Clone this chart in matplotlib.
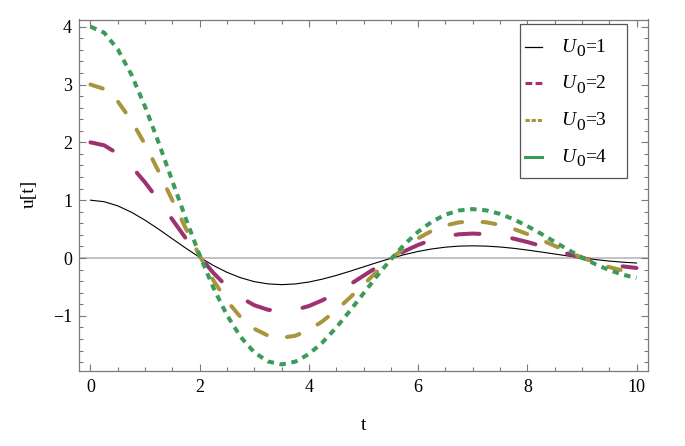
import matplotlib
matplotlib.use("Agg")
import matplotlib.pyplot as plt
from matplotlib.lines import Line2D
from matplotlib.patches import Rectangle
from matplotlib.ticker import MultipleLocator

plt.rcParams['font.family'] = ['Liberation Serif', 'DejaVu Serif']

# ---- data ----
t = [0.0, 0.25, 0.5, 0.75, 1.0, 1.25, 1.5, 1.75, 2.0, 2.25, 2.5, 2.75, 3.0, 3.25,
     3.5, 3.75, 4.0, 4.25, 4.5, 4.75, 5.0, 5.25, 5.5, 5.75, 6.0, 6.25, 6.5, 6.75,
     7.0, 7.25, 7.5, 7.75, 8.0, 8.25, 8.5, 8.75, 9.0, 9.25, 9.5, 9.75, 10.0]

u1 = [1.000, 0.974, 0.902, 0.792, 0.654, 0.498, 0.332, 0.168, 0.012, -0.128,
      -0.247, -0.341, -0.408, -0.447, -0.460, -0.448, -0.415, -0.364, -0.301,
      -0.229, -0.153, -0.077, -0.006, 0.059, 0.114, 0.157, 0.188, 0.206, 0.211,
      0.206, 0.191, 0.168, 0.138, 0.105, 0.070, 0.035, 0.003, -0.027, -0.052,
      -0.072, -0.086]
u2 = [2.000, 1.949, 1.805, 1.585, 1.308, 0.995, 0.665, 0.335, 0.024, -0.256,
      -0.494, -0.682, -0.816, -0.894, -0.920, -0.896, -0.830, -0.729, -0.602,
      -0.458, -0.306, -0.154, -0.011, 0.118, 0.227, 0.313, 0.375, 0.411, 0.423,
      0.412, 0.382, 0.335, 0.277, 0.210, 0.140, 0.071, 0.005, -0.054, -0.104,
      -0.144, -0.172]
u3 = [3.000, 2.923, 2.707, 2.377, 1.963, 1.493, 0.997, 0.503, 0.036, -0.384,
      -0.741, -1.023, -1.223, -1.341, -1.379, -1.344, -1.245, -1.093, -0.902,
      -0.686, -0.458, -0.231, -0.017, 0.177, 0.341, 0.470, 0.563, 0.617, 0.634,
      0.618, 0.572, 0.503, 0.415, 0.316, 0.211, 0.106, 0.008, -0.081, -0.157,
      -0.216, -0.259]
u4 = [4.000, 3.897, 3.609, 3.170, 2.617, 1.990, 1.329, 0.671, 0.048, -0.512,
      -0.988, -1.364, -1.631, -1.788, -1.839, -1.792, -1.660, -1.458, -1.203,
      -0.915, -0.611, -0.308, -0.022, 0.236, 0.454, 0.627, 0.750, 0.822, 0.846,
      0.824, 0.763, 0.670, 0.553, 0.421, 0.281, 0.142, 0.010, -0.108, -0.209,
      -0.288, -0.345]
u0_values = ["1", "2", "3", "4"]
x_ticks = [0, 2, 4, 6, 8, 10]
x_tick_labels = ["0", "2", "4", "6", "8", "10"]
y_ticks = [-1, 0, 1, 2, 3, 4]
y_tick_labels = ["\u22121", "0", "1", "2", "3", "4"]

# ---- style ----
c_black = "#000000"
c_mag = "#9E3270"
c_olive = "#A8963C"
c_green = "#3C9B5A"
axis_gray = "#7a7a7a"

W, H = 685, 446
fig = plt.figure(figsize=(W / 100, H / 100), dpi=100)
ax = fig.add_axes([79/W, 1 - 371/H, (648-79)/W, (371-19.5)/H])

ax.axhline(0, color="#bdbdbd", lw=1.3, zorder=1)

lw = 2.9
ax.plot(t, u1, color=c_black, lw=0.8, zorder=3)
ax.plot(t, u2, color=c_mag, lw=lw, dashes=(5.95, 8.2), dash_capstyle='round', zorder=3)
ax.plot(t, u3, color=c_olive, lw=lw, dashes=(3.2, 5.1), dash_capstyle='round', zorder=3)
ax.plot(t, u4, color=c_green, lw=lw, dashes=(1.6, 1.4), dash_capstyle='butt', zorder=3)

ax.set_xlim(-0.21, 10.21)
ax.set_ylim(-1.953, 4.124)

ax.xaxis.set_major_locator(MultipleLocator(2))
ax.xaxis.set_minor_locator(MultipleLocator(0.5))
ax.yaxis.set_major_locator(MultipleLocator(1))
ax.yaxis.set_minor_locator(MultipleLocator(0.2))
ax.tick_params(which='both', direction='in', top=True, right=True, color=axis_gray,
               width=0.8)
ax.tick_params(which='major', length=5.0, labelsize=13, pad=6)
ax.tick_params(which='minor', length=3.0)
ax.tick_params(axis='y', which='major', pad=5)
for s in ax.spines.values():
    s.set_color(axis_gray)
    s.set_linewidth(0.9)

ax.set_xticks(x_ticks)
ax.set_xticklabels(x_tick_labels)
ax.set_yticks(y_ticks)
ax.set_yticklabels(y_tick_labels)

fig.text(363.5/W, 1 - 426/H, "t", ha="center", va="center", fontsize=14)
fig.text(29/W, 1 - 194/H, "u[t]", ha="center", va="center", fontsize=14,
         rotation=90)

# ---- legend (drawn by hand in figure pixel positions) ----
def fx(px):
    return px / W

def fy(py):
    return 1 - py / H

fig.add_artist(Rectangle((fx(519.5), fy(178)), (627 - 519.5) / W, (178 - 24) / H,
                         transform=fig.transFigure, facecolor="white",
                         edgecolor="#555555", lw=0.9, zorder=5))
rows = [46.7, 83.4, 120.1, 156.8]
handle_styles = [
    dict(color=c_black, lw=0.9),
    dict(color=c_mag, lw=2.2, dashes=(2.2, 1.1)),
    dict(color=c_olive, lw=2.2, dashes=(1.4, 0.6)),
    dict(color=c_green, lw=2.2),
]
for ry, val, st in zip(rows, u0_values, handle_styles):
    fig.add_artist(Line2D([fx(525), fx(542)], [fy(ry), fy(ry)],
                          transform=fig.transFigure, zorder=6, **st))
    base = ry + 5.0
    fig.text(fx(561), fy(base), "U", ha="left", va="baseline", fontsize=14,
             style="italic", zorder=6)
    fig.text(fx(576), fy(base + 4.5), "0", ha="left", va="baseline",
             fontsize=12.5, zorder=6)
    fig.text(fx(585.5), fy(base), "=" + val, ha="left", va="baseline",
             fontsize=14, zorder=6)

fig.savefig("out.png", dpi=100)
